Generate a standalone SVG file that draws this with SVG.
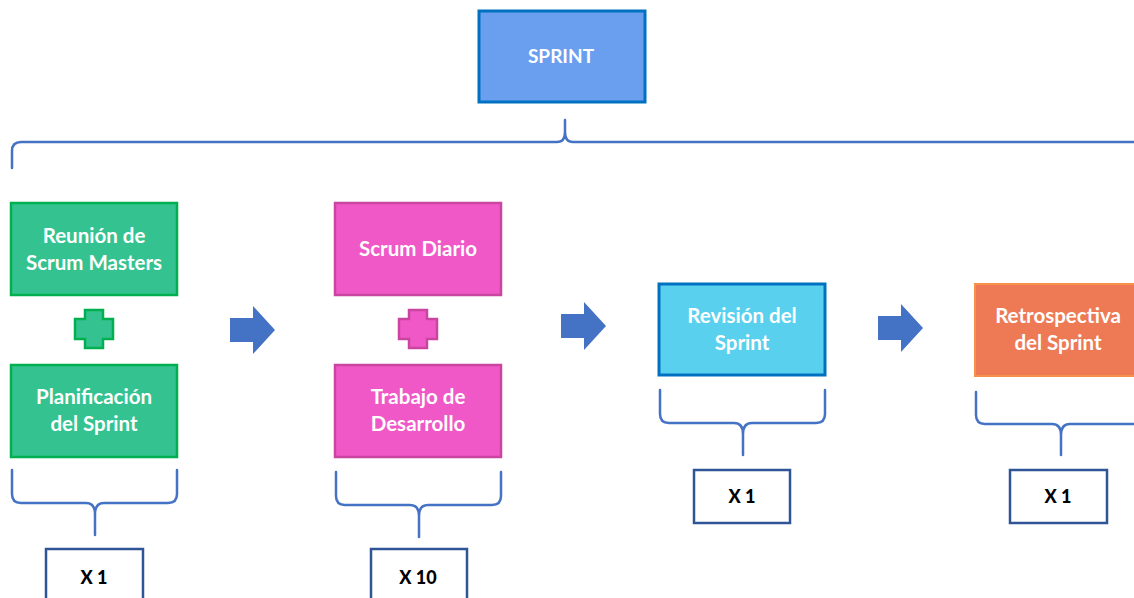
<svg xmlns="http://www.w3.org/2000/svg" width="1134" height="598" viewBox="0 0 1134 598">
  <defs>
    <style>
      .lbl { font-family: "Lato", "Liberation Sans", sans-serif; font-weight: bold; font-size: 20.5px; fill: #ffffff; text-anchor: middle; }
      .title { font-size: 19px; }
      .cnt { font-family: "Lato", "Liberation Sans", sans-serif; font-weight: 900; font-size: 18px; fill: #000000; text-anchor: middle; }
      .brace { fill: none; stroke: #4472C4; stroke-width: 2.5; stroke-linejoin: round; stroke-linecap: round; }
      .arrow { fill: #4472C4; }
      .count { fill: #ffffff; stroke: #2F5597; stroke-width: 2.5; }
    </style>
    <path id="plusShape" d="M-9,-19 H9 V-10 H19 V10 H9 V19 H-9 V10 H-19 V-10 H-9 Z"/>
    <path id="arrowShape" d="M0,-12 H23 V-24 L45,0 L23,24 V12 H0 Z"/>
  </defs>

  <rect width="1134" height="598" fill="#ffffff"/>

  <!-- top-level node -->
  <g id="sprint">
    <rect x="479" y="11" width="166" height="91" fill="#6A9FEF" stroke="#0070C0" stroke-width="3"/>
    <text class="lbl title" x="561" y="63">SPRINT</text>
  </g>

  <!-- braces and flow arrows -->
  <g id="connectors">
    <path class="brace" d="M12,168 V151 Q12,142 21,142 H557 Q565,142 565,132 V120 M565,132 Q565,142 573,142 H1134"/>
    <path class="brace" d="M12,470 V494 Q12,503 21,503 H86 Q95,503 95,514 V535 M95,514 Q95,503 104,503 H168 Q177,503 177,494 V470"/>
    <path class="brace" d="M336,472 V496 Q336,505 345,505 H410 Q419,505 419,516 V537 M419,516 Q419,505 428,505 H492 Q501,505 501,496 V472"/>
    <path class="brace" d="M660,390 V414 Q660,423 669,423 H734 Q743,423 743,434 V455 M743,434 Q743,423 752,423 H816 Q825,423 825,414 V390"/>
    <path class="brace" d="M976,392 V415 Q976,424 985,424 H1052 Q1061,424 1061,435 V455 M1061,435 Q1061,424 1070,424 H1134"/>
    <use href="#arrowShape" class="arrow" x="230" y="330"/>
    <use href="#arrowShape" class="arrow" x="561" y="326"/>
    <use href="#arrowShape" class="arrow" x="878" y="328"/>
  </g>

  <!-- phase 1 -->
  <g id="reunion">
    <rect x="11" y="203" width="166" height="92" fill="#34C390" stroke="#00B050" stroke-width="2.5"/>
    <text class="lbl" x="94" y="243">Reunión de</text>
    <text class="lbl" x="94" y="270">Scrum Masters</text>
  </g>
  <g id="plus-green">
    <use href="#plusShape" x="94" y="329" fill="#34C390" stroke="#00B050" stroke-width="2.5"/>
  </g>
  <g id="planificacion">
    <rect x="11" y="365" width="166" height="92" fill="#34C390" stroke="#00B050" stroke-width="2.5"/>
    <text class="lbl" x="94" y="404">Planificación</text>
    <text class="lbl" x="94" y="431">del Sprint</text>
  </g>
  <g id="count-1">
    <rect class="count" x="46" y="549" width="97" height="55"/>
    <text class="cnt" x="94" y="584">X 1</text>
  </g>

  <!-- phase 2 -->
  <g id="scrum-diario">
    <rect x="335" y="203" width="166" height="92" fill="#EF58C6" stroke="#C9459F" stroke-width="2.5"/>
    <text class="lbl" x="418" y="256">Scrum Diario</text>
  </g>
  <g id="plus-pink">
    <use href="#plusShape" x="418" y="329" fill="#EF58C6" stroke="#C9459F" stroke-width="2.5"/>
  </g>
  <g id="trabajo">
    <rect x="335" y="365" width="166" height="92" fill="#EF58C6" stroke="#C9459F" stroke-width="2.5"/>
    <text class="lbl" x="418" y="404">Trabajo de</text>
    <text class="lbl" x="418" y="431">Desarrollo</text>
  </g>
  <g id="count-10">
    <rect class="count" x="371" y="549" width="96" height="55"/>
    <text class="cnt" x="418" y="584">X 10</text>
  </g>

  <!-- phase 3 -->
  <g id="revision">
    <rect x="659" y="284" width="166" height="91" fill="#58D0EE" stroke="#0070C0" stroke-width="3"/>
    <text class="lbl" x="742" y="323">Revisión del</text>
    <text class="lbl" x="742" y="350">Sprint</text>
  </g>
  <g id="count-rev">
    <rect class="count" x="694" y="470" width="96" height="53"/>
    <text class="cnt" x="742" y="503">X 1</text>
  </g>

  <!-- phase 4 -->
  <g id="retrospectiva">
    <rect x="975" y="284" width="170" height="92" fill="#EE7A55" stroke="#F7904A" stroke-width="2"/>
    <text class="lbl" x="1058" y="323">Retrospectiva</text>
    <text class="lbl" x="1058" y="350">del Sprint</text>
  </g>
  <g id="count-retro">
    <rect class="count" x="1010" y="470" width="97" height="53"/>
    <text class="cnt" x="1058" y="503">X 1</text>
  </g>
</svg>
